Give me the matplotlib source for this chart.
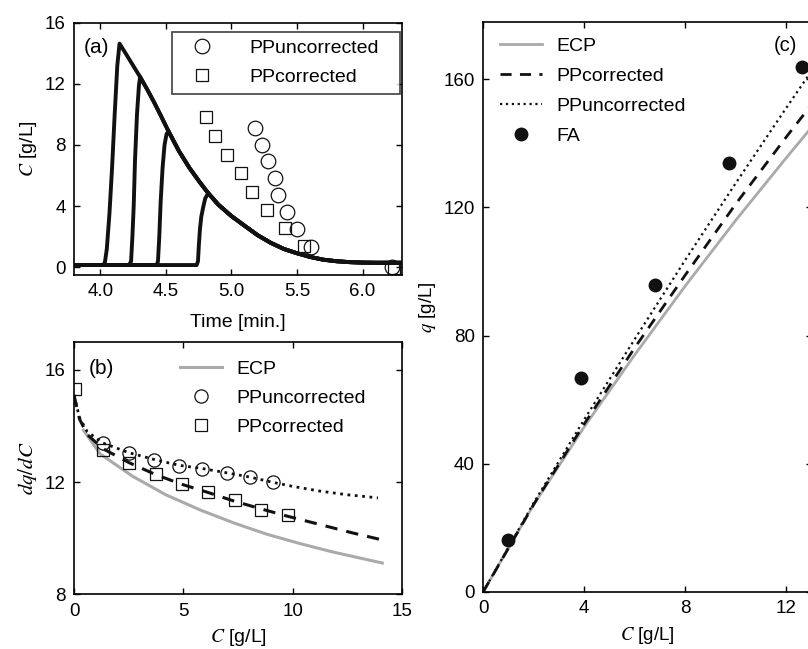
import matplotlib
matplotlib.use("Agg")
import matplotlib.pyplot as plt

plt.rcParams["font.family"] = ["Liberation Sans", "DejaVu Sans"]
plt.rcParams["mathtext.fontset"] = "stix"

BLACK = "#111111"
GRAY = "#aaaaaa"
FS = 13.5
LFS = 14

# ---- (a) elution profiles ----
env_t = [4.147, 4.20, 4.25, 4.304, 4.36, 4.41, 4.46, 4.52, 4.60, 4.68, 4.76, 4.823,
         4.90, 5.00, 5.10, 5.20, 5.30, 5.40, 5.50, 5.60, 5.70, 5.80, 5.90, 6.00,
         6.10, 6.20, 6.30]
env_c = [14.63, 13.9, 13.2, 12.45, 11.6, 10.8, 9.95, 8.9, 7.6, 6.5, 5.55, 4.85,
         4.1, 3.35, 2.72, 2.1, 1.6, 1.2, 0.92, 0.68, 0.5, 0.4, 0.34, 0.31,
         0.3, 0.3, 0.3]
rise1_t = [3.80, 4.02, 4.035, 4.05, 4.07, 4.09, 4.11, 4.13]
rise1_c = [0.15, 0.15, 0.3, 1.2, 3.5, 6.5, 10.0, 13.2]
rise2_t = [3.80, 4.22, 4.235, 4.245, 4.255, 4.265, 4.28, 4.295]
rise2_c = [0.15, 0.15, 0.4, 2.0, 4.0, 7.0, 10.0, 11.9]
rise3_t = [3.80, 4.43, 4.44, 4.45, 4.46, 4.475, 4.49, 4.505]
rise3_c = [0.15, 0.15, 0.4, 2.0, 4.2, 6.5, 8.0, 8.7]
rise4_t = [3.80, 4.735, 4.745, 4.752, 4.76, 4.77, 4.785, 4.80]
rise4_c = [0.15, 0.15, 0.4, 1.5, 2.5, 3.3, 3.95, 4.5]
peak_start = [0, 3, 7, 11]      # index into envelope where each curve joins it

unc_t = [5.177, 5.236, 5.279, 5.330, 5.355, 5.427, 5.496, 5.610, 6.224]
unc_c = [9.08, 8.02, 6.95, 5.86, 4.75, 3.62, 2.48, 1.31, 0.0]
cor_t = [4.808, 4.872, 4.969, 5.072, 5.154, 5.274, 5.405, 5.556, 6.238]
cor_c = [9.80, 8.61, 7.36, 6.14, 4.95, 3.75, 2.55, 1.37, -0.07]

# ---- (b) dq/dC ----
ecp_b_x = [0.43, 1.2, 2.7, 4.2, 5.8, 7.3, 8.8, 10.3, 11.8, 14.1]
ecp_b_y = [13.85, 13.0, 12.2, 11.55, 11.0, 10.55, 10.15, 9.82, 9.52, 9.12]
cor_b_x = [0.0, 0.25, 0.6, 1.3, 2.5, 3.7, 4.9, 6.1, 7.3, 8.5, 9.7, 11.25, 12.75, 14.0]
cor_b_y = [15.1, 14.25, 13.7, 13.2, 12.7, 12.28, 11.93, 11.64, 11.33, 11.06, 10.8, 10.49, 10.19, 9.96]
unc_b_x = [0.0, 0.25, 0.6, 1.3, 2.5, 3.7, 4.8, 5.9, 7.0, 8.05, 9.05, 10.0, 11.25, 12.5, 13.9]
unc_b_y = [15.1, 14.3, 13.8, 13.4, 13.05, 12.8, 12.6, 12.48, 12.33, 12.18, 12.0, 11.85, 11.68, 11.55, 11.44]
unc_pts_x = [1.34, 2.53, 3.66, 4.81, 5.85, 6.99, 8.06, 9.10]
unc_pts_y = [13.40, 13.04, 12.78, 12.59, 12.47, 12.32, 12.19, 12.0]
cor_pts_x = [0.05, 1.34, 2.53, 3.73, 4.93, 6.15, 7.37, 8.56, 9.77]
cor_pts_y = [15.3, 13.16, 12.69, 12.28, 11.93, 11.66, 11.36, 11.01, 10.84]

# ---- (c) isotherms ----
iso_c = [0, 2, 4, 6, 8, 10, 12, 14]
ecp_q = [0, 27.2, 51.5, 74.0, 95.5, 116.0, 135.5, 154.5]
cor_q = [0, 27.3, 52.4, 76.2, 98.9, 121.1, 142.0, 162.2]
unc_q = [0, 27.8, 53.8, 78.9, 103.6, 127.6, 151.1, 174.1]
fa_c = [0.98, 3.88, 6.81, 9.72, 12.62]
fa_q = [16.25, 66.7, 95.8, 133.9, 163.9]

fig = plt.figure(figsize=(8.08, 6.49), dpi=100)
axa = fig.add_axes([0.0916, 0.5763, 0.4059, 0.3888])
axb = fig.add_axes([0.0916, 0.0840, 0.4059, 0.3895])
axc = fig.add_axes([0.5981, 0.0883, 0.4063, 0.8783])

for ax in (axa, axb, axc):
    ax.tick_params(direction="in", top=True, right=True, length=4.5, width=1,
                   labelsize=FS, pad=6)
    for s in ax.spines.values():
        s.set_linewidth(1.2)

# (a)
rises = [(rise1_t, rise1_c), (rise2_t, rise2_c), (rise3_t, rise3_c), (rise4_t, rise4_c)]
for (rt, rc), k in zip(rises, peak_start):
    axa.plot(rt + env_t[k:], rc + env_c[k:], color=BLACK, lw=2.8, solid_joinstyle="round")
axa.plot(unc_t, unc_c, "o", ms=10.5, mfc="none", mec=BLACK, mew=0.9, label="PPuncorrected")
axa.plot(cor_t, cor_c, "s", ms=9, mfc="none", mec=BLACK, mew=0.9, label="PPcorrected")
axa.set_xlim(3.8, 6.3)
axa.set_ylim(-0.5, 16)
axa.set_xticks([4.0, 4.5, 5.0, 5.5, 6.0])
axa.set_xticklabels(["4.0", "4.5", "5.0", "5.5", "6.0"])
axa.set_yticks([0, 4, 8, 12, 16])
axa.set_xlabel("Time [min.]", fontsize=FS + 0.5, labelpad=10)
axa.set_ylabel("$C$ [g/L]", fontsize=FS + 0.5, labelpad=4)
axa.text(3.975, 14.35, "(a)", fontsize=FS + 1.5, ha="center", va="center")
lg = axa.legend(loc="upper left", bbox_to_anchor=(0.299, 0.5, 0.695, 0.4643),
                mode="expand", borderaxespad=0, fontsize=LFS, handlelength=2.3,
                handletextpad=1.3, labelspacing=0.6, borderpad=0.39,
                fancybox=False, frameon=True)
lg.get_frame().set_edgecolor(BLACK)
lg.get_frame().set_linewidth(1.2)

# (b)
axb.plot(ecp_b_x, ecp_b_y, color=GRAY, lw=2.2, label="ECP")
axb.plot(unc_b_x, unc_b_y, ":", color=BLACK, lw=2.0)
axb.plot(cor_b_x, cor_b_y, color=BLACK, lw=2.2, dashes=(4, 3))
axb.plot(unc_pts_x, unc_pts_y, "o", ms=9.5, mfc="none", mec=BLACK, mew=0.9, label="PPuncorrected")
axb.plot(cor_pts_x, cor_pts_y, "s", ms=9, mfc="none", mec=BLACK, mew=0.9, label="PPcorrected")
axb.set_xlim(0, 15)
axb.set_ylim(8, 17)
axb.set_xticks([0, 5, 10, 15])
axb.set_yticks([8, 12, 16])
axb.set_xlabel("$C$ [g/L]", fontsize=FS + 0.5, labelpad=5)
axb.set_ylabel("$dq/dC$", fontsize=FS + 1.5, labelpad=4)
axb.text(1.27, 16.03, "(b)", fontsize=FS + 1.5, ha="center", va="center")
axb.legend(loc="upper left", bbox_to_anchor=(0.323, 0.928), borderaxespad=0,
           borderpad=0, fontsize=LFS, handlelength=2.16, handletextpad=0.72,
           labelspacing=0.6, frameon=False)

# (c)
axc.plot(iso_c, ecp_q, color=GRAY, lw=2.0, label="ECP")
axc.plot(iso_c, cor_q, color=BLACK, lw=2.0, dashes=(4, 3), label="PPcorrected")
axc.plot(iso_c, unc_q, ":", color=BLACK, lw=1.6, label="PPuncorrected")
axc.plot(fa_c, fa_q, "o", ms=9, color=BLACK, label="FA")
axc.set_xlim(0, 13)
axc.set_ylim(0, 178)
axc.set_xticks([0, 4, 8, 12])
axc.set_yticks([0, 40, 80, 120, 160])
axc.set_xlabel("$C$ [g/L]", fontsize=FS, labelpad=6)
axc.set_ylabel("$q$ [g/L]", fontsize=FS, labelpad=4)
axc.text(11.95, 170.6, "(c)", fontsize=FS + 1, ha="center", va="center")
axc.legend(loc="upper left", bbox_to_anchor=(0.051, 0.9723), borderaxespad=0,
           borderpad=0, fontsize=LFS, handlelength=2.16, handletextpad=0.76,
           labelspacing=0.64, frameon=False)

fig.savefig("out.png", dpi=100)
